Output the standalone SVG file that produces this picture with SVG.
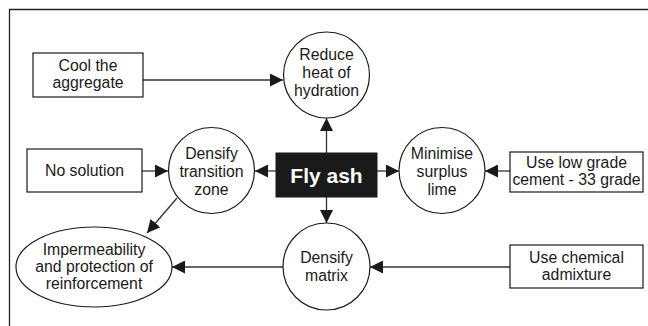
<svg xmlns="http://www.w3.org/2000/svg" width="648" height="326" viewBox="0 0 648 326">
<defs>
<marker id="ah" viewBox="0 0 13 13" refX="13" refY="6.5" markerWidth="13" markerHeight="13" markerUnits="userSpaceOnUse" orient="auto">
<path d="M0,0 L13,6.5 L0,13 Z" fill="#1a1a1a"/>
</marker>
</defs>
<style>
.n{fill:#fff;stroke:#1a1a1a;stroke-width:1.2}
.t{font-family:"Liberation Sans",Arial,sans-serif;font-size:15.8px;fill:#1a1a1a;text-anchor:middle}
.c{stroke:#333;stroke-width:1.3;fill:none;marker-end:url(#ah)}
</style>
<rect width="648" height="326" fill="#fff"/>
<path d="M9.5,326 V9.5 H648" fill="none" stroke="#222" stroke-width="1.3"/>
<g id="connectors">
<line class="c" x1="143" y1="80" x2="283" y2="80"/>
<line class="c" x1="326.5" y1="153" x2="326.5" y2="118"/>
<line class="c" x1="326.5" y1="197" x2="326.5" y2="223"/>
<line class="c" x1="276" y1="171" x2="255" y2="171"/>
<line class="c" x1="377" y1="171" x2="399" y2="171"/>
<line class="c" x1="142" y1="171" x2="168" y2="171"/>
<line class="c" x1="510" y1="171" x2="485" y2="171"/>
<line class="c" x1="510" y1="267" x2="370" y2="267"/>
<line class="c" x1="283" y1="267" x2="172" y2="267"/>
<line class="c" x1="177" y1="198" x2="147" y2="233"/>
</g>
<g id="cool">
<rect class="n" x="33" y="53" width="110" height="44"/>
<text class="t" x="88" y="71">Cool the</text>
<text class="t" x="88" y="88">aggregate</text>
</g>
<g id="reduce">
<circle class="n" cx="326.5" cy="75" r="43"/>
<text class="t" x="326.5" y="60">Reduce</text>
<text class="t" x="326.5" y="78">heat of</text>
<text class="t" x="326.5" y="96">hydration</text>
</g>
<g id="nosolution">
<rect class="n" x="27" y="149" width="115" height="43"/>
<text class="t" x="84.5" y="176">No solution</text>
</g>
<g id="transition">
<circle class="n" cx="211.5" cy="170.5" r="43"/>
<text class="t" x="211.5" y="159">Densify</text>
<text class="t" x="211.5" y="177">transition</text>
<text class="t" x="211.5" y="195">zone</text>
</g>
<g id="flyash">
<rect x="276" y="153" width="101" height="44" fill="#1a1a1a" stroke="#1a1a1a"/>
<text x="326.5" y="182.5" font-family="Liberation Sans,Arial,sans-serif" font-size="21" font-weight="bold" fill="#fff" text-anchor="middle">Fly ash</text>
</g>
<g id="minimise">
<circle class="n" cx="442" cy="170.5" r="43"/>
<text class="t" x="442" y="159">Minimise</text>
<text class="t" x="442" y="177">surplus</text>
<text class="t" x="442" y="195">lime</text>
</g>
<g id="lowgrade">
<rect class="n" x="510" y="152" width="133" height="40"/>
<text class="t" x="576.5" y="168">Use low grade</text>
<text class="t" x="576.5" y="185">cement - 33 grade</text>
</g>
<g id="matrix">
<circle class="n" cx="326.5" cy="266.5" r="43.5"/>
<text class="t" x="326.5" y="263">Densify</text>
<text class="t" x="326.5" y="281">matrix</text>
</g>
<g id="chemical">
<rect class="n" x="510" y="245" width="133" height="43"/>
<text class="t" x="576.5" y="263">Use chemical</text>
<text class="t" x="576.5" y="280">admixture</text>
</g>
<g id="impermeability">
<ellipse class="n" cx="94" cy="267" rx="78" ry="40"/>
<text class="t" x="94" y="255">Impermeability</text>
<text class="t" x="94" y="272">and protection of</text>
<text class="t" x="94" y="289">reinforcement</text>
</g>
</svg>
